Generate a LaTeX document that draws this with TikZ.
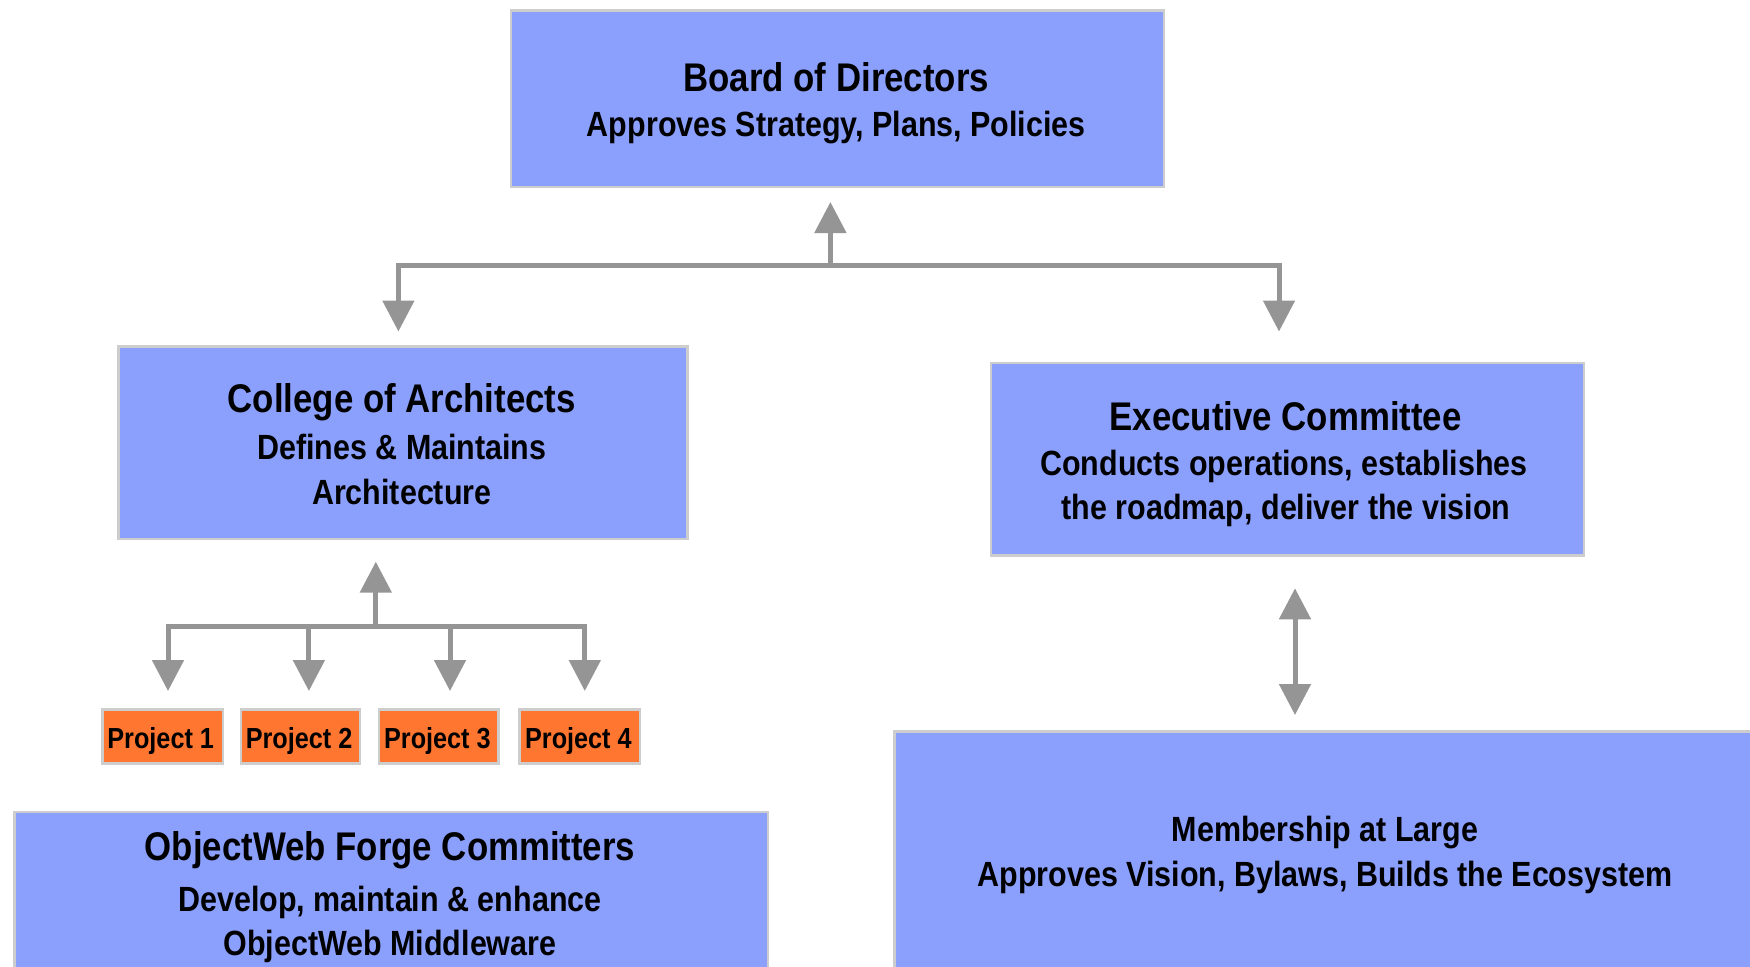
\documentclass[tikz,border=0pt]{standalone}
\usepackage{fontspec}
\newfontfamily\orgfont[FakeStretch=0.87]{Liberation Sans}
\usetikzlibrary{arrows.meta}
\definecolor{boxblue}{HTML}{8B9FFC}
\definecolor{boxorange}{HTML}{FF7630}
\definecolor{boxedge}{HTML}{CDCDCD}
\definecolor{conngray}{HTML}{959595}
\tikzset{
  bluebox/.style={draw=boxedge, line width=2.5pt, fill=boxblue, rectangle, anchor=north west, inner sep=0pt},
  projbox/.style={draw=boxedge, line width=2.5pt, fill=boxorange, rectangle, anchor=north west, inner sep=0pt},
  ttl/.style={anchor=base, inner sep=0pt, font=\orgfont\bfseries\fontsize{40}{45}\selectfont},
  sub/.style={anchor=base, inner sep=0pt, font=\orgfont\bfseries\fontsize{35}{45}\selectfont},
  ptxt/.style={anchor=base, inner sep=0pt, font=\orgfont\bfseries\fontsize{29}{34}\selectfont},
  conn/.style={draw=conngray, line width=5pt, line join=miter, >={Triangle[width=31pt,length=31pt]}}
}
\begin{document}
\begin{tikzpicture}[x=1pt,y=-1pt]
\useasboundingbox (0,0) rectangle (1750,966);
\clip (0,0) rectangle (1750,966);
\fill[white] (0,0) rectangle (1750,966);

% boxes
\node[bluebox, minimum width=653pt, minimum height=176.4pt] (board) at (509.5,9.3) {};
\node[bluebox, minimum width=569pt, minimum height=192.7pt] (college) at (117.2,345) {};
\node[bluebox, minimum width=593pt, minimum height=192.3pt] (exec) at (989.9,361.7) {};
\node[bluebox, minimum width=753.5pt, minimum height=200pt] (forge) at (13,810.7) {};
\node[bluebox, minimum width=900pt, minimum height=280pt] (members) at (893,730) {};
\node[projbox, minimum width=120.6pt, minimum height=54pt] (p1) at (101,708.3) {};
\node[projbox, minimum width=119pt, minimum height=54pt] (p2) at (239.6,708.3) {};
\node[projbox, minimum width=119.4pt, minimum height=54pt] (p3) at (377.7,708.3) {};
\node[projbox, minimum width=120.5pt, minimum height=54pt] (p4) at (518.2,708.3) {};

% texts
\node[ttl] (boardT) at (836.3,91.7) {Board of Directors};
\node[sub] (boardS) at (836.3,136.7) {Approves Strategy, Plans, Policies};
\node[ttl] (collegeT) at (401.8,412.7) {College of Architects};
\node[sub] (collegeS1) at (401.8,459) {Defines \& Maintains};
\node[sub] (collegeS2) at (401.8,504) {Architecture};
\node[ttl] (execT) at (1285.6,430) {Executive Committee};
\node[sub] (execS1) at (1284,475) {Conducts operations, establishes};
\node[sub] (execS2) at (1286,519) {the roadmap, deliver the vision};
\node[ttl] (forgeT) at (390,860) {ObjectWeb Forge Committers};
\node[sub] (forgeS1) at (390,911) {Develop, maintain \& enhance};
\node[sub] (forgeS2) at (390,955) {ObjectWeb Middleware};
\node[sub] (membersT) at (1325,841.7) {Membership at Large};
\node[sub] (membersS) at (1325,886) {Approves Vision, Bylaws, Builds the Ecosystem};
\node[ptxt] (p1T) at (160.7,748.3) {Project 1};
\node[ptxt] (p2T) at (299.1,748.3) {Project 2};
\node[ptxt] (p3T) at (437.4,748.3) {Project 3};
\node[ptxt] (p4T) at (578.4,748.3) {Project 4};

% connector coordinates
\coordinate (bTip) at (830.4,202);
\coordinate (bHub) at (830.4,265.6);
\coordinate (bL) at (398.4,265.6);
\coordinate (bR) at (1279,265.6);
\coordinate (bLtip) at (398.4,331.5);
\coordinate (bRtip) at (1279,331.5);

\coordinate (cTip) at (375.8,561.7);
\coordinate (cHub) at (375.8,626.5);
\coordinate (c1) at (168,626.5);
\coordinate (c2) at (308.9,626.5);
\coordinate (c3) at (450,626.5);
\coordinate (c4) at (584.8,626.5);
\coordinate (c1tip) at (168,691);
\coordinate (c2tip) at (308.9,691);
\coordinate (c3tip) at (450,691);
\coordinate (c4tip) at (584.8,691);

\coordinate (eTip) at (1295,588.3);
\coordinate (mTip) at (1295,715);

% connectors
\draw[conn, ->] (bHub) -- (bTip);
\draw[conn, <->] (bLtip) -- (bL) -- (bR) -- (bRtip);

\draw[conn, ->] (cHub) -- (cTip);
\draw[conn, <->] (c1tip) -- (c1) -- (c4) -- (c4tip);
\draw[conn, ->] (c2) -- (c2tip);
\draw[conn, ->] (c3) -- (c3tip);

\draw[conn, <->] (eTip) -- (mTip);
\end{tikzpicture}
\end{document}
